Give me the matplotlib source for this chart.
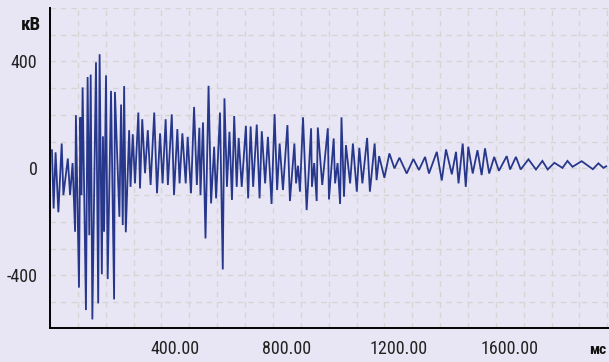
import numpy as np
import matplotlib
matplotlib.use("Agg")
import matplotlib.pyplot as plt
from matplotlib import font_manager
from matplotlib.ticker import FixedLocator, MultipleLocator, FuncFormatter

available = {f.name for f in font_manager.fontManager.ttflist}
preferred = ['Roboto Condensed', 'DejaVu Sans Condensed', 'Liberation Sans Narrow',
             'Open Sans Condensed', 'Roboto', 'DejaVu Sans']
families = [f for f in preferred if f in available] or ['DejaVu Sans']
plt.rcParams['font.family'] = families
condensed = families[0] in ('Roboto Condensed', 'DejaVu Sans Condensed',
                            'Liberation Sans Narrow', 'Open Sans Condensed')
tick_size = 13.0 if condensed else 11.5

# Signal vertices (time in ms, voltage in kV)
time_ms = [
    -43, -37, -30, -20, -8, -2, 14, 22, 31, 40, 43, 54, 59, 63, 67, 79, 85, 91, 96, 102,
    115, 123, 128, 136, 140, 144, 151, 157, 169, 180, 183, 199, 205, 211, 216, 222, 234, 239,
    247, 255, 267, 273, 281, 291, 301, 311, 324, 334, 345, 354, 365, 373, 387, 395, 407, 415,
    425, 437, 444, 456, 467, 477, 486,
    490, 499, 508, 519, 528, 539, 546, 560, 570, 576, 585, 594, 603, 611, 620, 627, 638, 653,
    661, 670, 679, 692, 702, 710, 722, 732, 745, 756, 765, 774, 786, 802, 811, 827, 833, 840,
    847, 858, 871, 887, 890, 898, 907, 911, 927, 947, 951, 968, 973, 982, 991, 996, 1005,
    1012, 1027, 1037, 1051, 1060, 1071, 1088, 1098, 1115, 1122, 1131, 1150, 1168, 1186, 1204,
    1230, 1254, 1274, 1296, 1310, 1338, 1356, 1371, 1392, 1407, 1416, 1431, 1442, 1451, 1467,
    1484, 1499, 1511, 1526, 1544, 1561, 1589, 1601, 1622, 1639, 1667, 1694, 1717, 1736, 1760,
    1789, 1807, 1825, 1858, 1898, 1918, 1936, 1946,
]
voltage_kv = [
    68, -150, 60, -164, 93, -100, 37, -100, 20, -237, 199, -446, 191, -100, 303, -530, 342, -250, 351, -565,
    397, -505, 427, -396, 120, -237, 348, -414, 290, -490, 286, -181, 239, -212, 308, -239, 143, -69,
    128, -56, 209, -75, 184, -18, 143, -62, 209, -93, 131, -56, 184, -62, 202, -100, 147, -56,
    131, -56, 118, -93, 230, -62, 152,
    -100, 172, -262, 309, -131, 81, -112, 209, -378, 262, -69, 137, -118, 196, -69, 114, -69, 159,
    -112, 157, -69, 164, -112, 139, -56, 118, -133, 203, -81, 93, -81, 162, -122, 93, -56, 10,
    -87, 191, -156, 150, -69, 20, -122, 153, -62, 150, -116, 112, -56, 20, -133, 191, -106,
    87, -56, 93, -87, 77, -56, 114, -87, 93, -44, 46, -35, 56, 0, 40,
    -19, 35, -6, 43, -19, 62, -45, 71, -22, 62, -56, 93, -69, 81, -19,
    68, -25, 75, -19, 43, -9, 46, -4, 43, -4, 34, -4, 28, -4, 21,
    2, 28, 6, 27, -3, 19, 2, 8,
]

y_tick_values = [-400, 0, 400]
x_tick_values = [400, 800, 1200, 1600]
y_unit = "кВ"
x_unit = "мс"

bg = "#E8E6F4"
line_color = "#27378C"
grid_color = "#D8D4D4"

fig = plt.figure(figsize=(6.09, 3.62), dpi=100, facecolor=bg)
ax = fig.add_axes([50 / 609, 34 / 362, 559 / 609, 320 / 362])
ax.set_facecolor(bg)

ax.plot(time_ms, voltage_kv, color=line_color, lw=1.3, zorder=3, solid_joinstyle='miter')

ax.set_xlim(-50, 1956)
ax.set_ylim(-597, 600)

ax.xaxis.set_major_locator(FixedLocator(x_tick_values))
ax.xaxis.set_minor_locator(FixedLocator(np.arange(-50, 1957, 100)))
ax.xaxis.set_major_formatter(FuncFormatter(lambda v, p: f"{v:.2f}"))
ax.yaxis.set_major_locator(FixedLocator(y_tick_values))
ax.yaxis.set_minor_locator(MultipleLocator(100))
ax.yaxis.set_major_formatter(FuncFormatter(lambda v, p: f"{int(v)}"))

ax.grid(False)
ax.grid(True, axis='x', which='minor', color=grid_color, ls=(0, (4, 3.5)), lw=1.0, zorder=0)
ax.grid(True, axis='y', which='both', color=grid_color, ls=(0, (4, 3.5)), lw=1.0, zorder=0)

ax.tick_params(which='both', length=0)
ax.tick_params(axis='y', pad=9, labelsize=tick_size, labelcolor='#222222')
ax.tick_params(axis='x', pad=9, labelsize=tick_size, labelcolor='#222222')

for s in ['top', 'right']:
    ax.spines[s].set_visible(False)
for s in ['left', 'bottom']:
    ax.spines[s].set_color('black')
    ax.spines[s].set_linewidth(1.4)

fig.text(31 / 609, 1 - 25 / 362, y_unit, ha='center', va='center',
         fontsize=13.5 if condensed else 11.5, fontweight='bold', color='#111111')
fig.text(598 / 609, 1 - 350 / 362, x_unit, ha='center', va='center',
         fontsize=11 if condensed else 9.5, fontweight='bold', color='#111111')

fig.savefig("out.png", dpi=100, facecolor=bg)
